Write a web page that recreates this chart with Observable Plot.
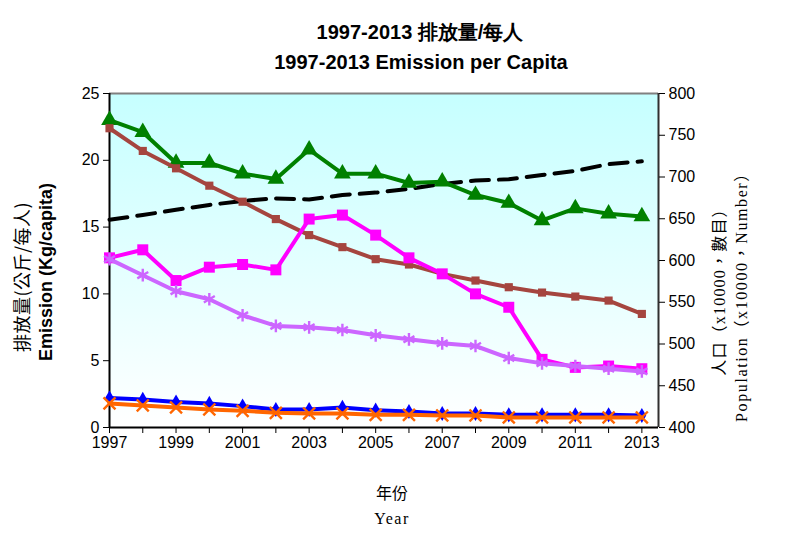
<!DOCTYPE html>
<html>
<head>
<meta charset="utf-8">
<script src="https://cdn.jsdelivr.net/npm/d3@7"></script>
<script src="https://cdn.jsdelivr.net/npm/@observablehq/plot@0.6"></script>
<style>
  body { margin: 0; background: #fff; }
  #chart { position: relative; width: 787px; height: 538px; }
</style>
</head>
<body>
<div id="chart"></div>
<script>
// ---------- data ----------
const years = [1997, 1998, 1999, 2000, 2001, 2002, 2003, 2004, 2005, 2006, 2007, 2008, 2009, 2010, 2011, 2012, 2013];
const seriesGreen    = [23.0, 22.1, 19.8, 19.8, 19.0, 18.6, 20.8, 19.0, 19.0, 18.3, 18.4, 17.4, 16.8, 15.5, 16.4, 16.0, 15.8];
const seriesBrown    = [22.4, 20.7, 19.4, 18.1, 16.9, 15.6, 14.4, 13.5, 12.6, 12.2, 11.5, 11.0, 10.5, 10.1, 9.8, 9.5, 8.5];
const seriesMagenta  = [12.7, 13.3, 11.0, 12.0, 12.2, 11.8, 15.6, 15.9, 14.4, 12.7, 11.5, 10.0, 9.0, 5.1, 4.5, 4.6, 4.4];
const seriesLavender = [12.6, 11.4, 10.2, 9.6, 8.4, 7.6, 7.5, 7.3, 6.9, 6.6, 6.3, 6.1, 5.2, 4.8, 4.6, 4.4, 4.2];
const seriesBlue     = [2.2, 2.1, 1.9, 1.8, 1.6, 1.35, 1.35, 1.5, 1.3, 1.2, 1.05, 1.05, 0.95, 0.95, 0.95, 0.95, 0.9];
const seriesOrange   = [1.8, 1.65, 1.5, 1.35, 1.25, 1.1, 1.05, 1.05, 0.95, 0.95, 0.9, 0.9, 0.75, 0.75, 0.75, 0.75, 0.75];
const population     = [648.9, 654.4, 660.7, 666.5, 671.4, 674.4, 673.1, 678.4, 681.3, 685.7, 691.6, 695.8, 697.3, 702.4, 707.2, 715.5, 718.8];

const leftTicks  = [0, 5, 10, 15, 20, 25];
const rightTicks = [400, 450, 500, 550, 600, 650, 700, 750, 800];
const xLabelYears = [1997, 1999, 2001, 2003, 2005, 2007, 2009, 2011, 2013];

const titleLines = ["1997-2013 排放量/每人", "1997-2013 Emission per Capita"];
const leftLabel  = ["排放量(公斤/每人)", "Emission (Kg/capita)"];
const rightLabel = ["人口（x10000，數目）", "Population（x10000，Number）"];
const xLabel     = ["年份", "Year"];

// ---------- helpers ----------
const rightMin = 400, rightMax = 800, leftMax = 25;
const popToY = p => (p - rightMin) / (rightMax - rightMin) * leftMax;
const yToPop = y => y / leftMax * (rightMax - rightMin) + rightMin;

const seriesDefs = [
  {values: seriesGreen,    color: "#008000", symbol: "triangle", r: 6.2, fill: true},
  {values: seriesBrown,    color: "#A5453F", symbol: "square",   r: 4.6, fill: true},
  {values: seriesMagenta,  color: "#FF00FF", symbol: "square",   r: 6.2, fill: true},
  {values: seriesLavender, color: "#CC66FF", symbol: "asterisk", r: 6,   fill: false},
  {values: seriesBlue,     color: "#0000FF", symbol: "diamond",  r: 4.6, fill: true},
  {values: seriesOrange,   color: "#FF6600", symbol: "times",    r: 5.5, fill: false}
];

const popRows = years.map((x, i) => ({x, y: popToY(population[i])}));

const seriesMarks = seriesDefs.flatMap(s => {
  const rows = years.map((x, i) => ({x, y: s.values[i]}));
  return [
    Plot.line(rows, {x: "x", y: "y", stroke: s.color, strokeWidth: 4}),
    Plot.dot(rows, s.fill
      ? {x: "x", y: "y", symbol: () => s.symbol, r: s.r, fill: s.color, stroke: "none"}
      : {x: "x", y: "y", symbol: () => s.symbol, r: s.r, fill: "none", stroke: s.color, strokeWidth: 2.4})
  ];
});

const svg = Plot.plot({
  width: 787,
  height: 538,
  marginLeft: 109,
  marginRight: 129,
  marginTop: 93,
  marginBottom: 111,
  x: {domain: [1997, 2013.5]},
  y: {domain: [0, 25]},
  symbol: {type: "identity"},
  style: {fontFamily: "'Liberation Sans', Arial, sans-serif", fontSize: "16px", color: "#000", background: "transparent", overflow: "visible"},
  marks: [
    Plot.frame({fill: "url(#bgGrad)", stroke: "none"}),
    Plot.ruleY([25], {stroke: "#808080", strokeWidth: 2}),
    Plot.ruleX([2013.5], {stroke: "#303030", strokeWidth: 2}),
    Plot.ruleX([1997], {stroke: "#000", strokeWidth: 2}),
    Plot.ruleY([0], {stroke: "#000", strokeWidth: 2}),
    Plot.axisY(leftTicks, {anchor: "left", tickSize: 6, tickPadding: 4, label: null, tickFormat: d => String(d), fontSize: 16}),
    Plot.axisY(rightTicks.map(popToY), {anchor: "right", tickSize: 6, tickPadding: 4, label: null, tickFormat: d => String(Math.round(yToPop(d))), fontSize: 16}),
    Plot.axisX(years, {anchor: "bottom", tickSize: 6, tickPadding: 3, label: null, tickFormat: d => xLabelYears.includes(d) ? String(d) : "", fontSize: 16}),
    Plot.line(popRows, {x: "x", y: "y", stroke: "#000", strokeWidth: 4, strokeDasharray: "18,10"}),
    ...seriesMarks
  ]
});

const s = d3.select(svg);
s.insert("defs", ":first-child").html(
  '<linearGradient id="bgGrad" x1="0" y1="0" x2="0" y2="1">' +
  '<stop offset="0" stop-color="#c6ffff"/><stop offset="1" stop-color="#ffffff"/></linearGradient>'
);

const txt = (x, y, str, opts = {}) => {
  const t = s.append("text")
    .attr("x", x).attr("y", y)
    .attr("text-anchor", "middle")
    .attr("fill", "#000")
    .style("font-family", opts.family || "'Liberation Sans', Arial, sans-serif")
    .style("font-size", (opts.size || 16) + "px")
    .style("font-weight", opts.weight || "normal")
    .text(str);
  if (opts.rotate) t.attr("transform", `rotate(${opts.rotate},${x},${y})`);
  if (opts.spacing) t.style("letter-spacing", opts.spacing);
  return t;
};

txt(420, 39, titleLines[0], {size: 20, weight: "bold"});
txt(421, 69, titleLines[1], {size: 20, weight: "bold"});

const cjkFont = "'Noto Sans CJK TC', 'Noto Sans CJK SC', sans-serif";
const serifFont = "'Liberation Serif', 'Noto Sans CJK TC', serif";
txt(29, 277, leftLabel[0], {size: 18, family: cjkFont, rotate: -90, spacing: "0.5px"});
txt(52, 272, leftLabel[1], {size: 18, weight: "bold", rotate: -90});

txt(725, 288, rightLabel[0], {size: 16, family: serifFont, rotate: -90, spacing: "1.2px"});
txt(747, 293, rightLabel[1], {size: 16, family: serifFont, rotate: -90, spacing: "1.6px"});

txt(392, 499, xLabel[0], {size: 16, family: cjkFont});
txt(392, 524, xLabel[1], {size: 16, family: serifFont, spacing: "1.5px"});

document.getElementById("chart").appendChild(svg);
</script>
</body>
</html>
